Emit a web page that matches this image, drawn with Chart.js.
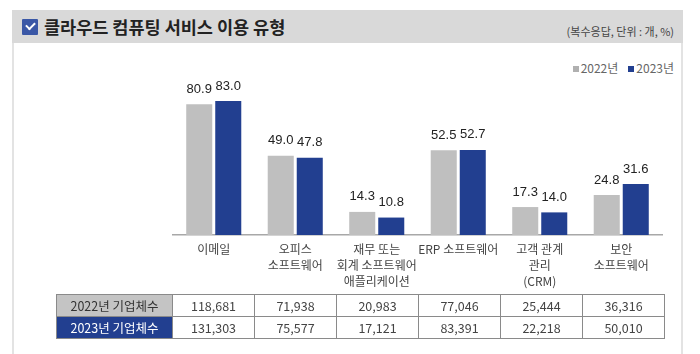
<!DOCTYPE html>
<html>
<head>
<meta charset="utf-8">
<script src="https://cdn.jsdelivr.net/npm/chart.js@4"></script>
<style>
  body { margin:0; background:#fff; font-family:"Noto Sans CJK KR", sans-serif; }
  #wrap { position:relative; width:700px; height:354px; overflow:hidden; }
  #box { position:absolute; left:12px; top:10px; width:671px; height:344px;
         border-left:2px solid #e3e3e3; border-right:2px solid #e3e3e3; box-sizing:border-box; }
  #head { position:absolute; left:12px; top:10px; width:671px; height:33px; background:#d9d9d9; }
  #chk { position:absolute; left:22px; top:19px; width:16px; height:16px; background:#3a57a6; border-radius:1px; }
  #chk:after { content:''; position:absolute; left:4px; top:3px; width:7px; height:4px;
               border-left:2px solid #fff; border-bottom:2px solid #fff; transform:rotate(-45deg); }
  #title { position:absolute; left:44px; top:14px; font-size:17.5px; font-weight:700; color:#222; }
  #unit { position:absolute; right:26px; top:23px; font-size:11px; color:#444; }
  #legend { position:absolute; right:26px; top:59px; font-size:12px; color:#666; display:flex; gap:10px; }
  #legend span i { display:inline-block; width:6px; height:6px; margin-right:2px; vertical-align:1px; }
  #cv { position:absolute; left:14px; top:44px; }
  table { position:absolute; left:56px; top:294px; border-collapse:collapse; font-size:12.5px; color:#444; }
  td { border:1px solid #8a8a8a; height:21px; padding:0; text-align:center; width:81px; }
  td.h { width:115px; }
</style>
</head>
<body>
<div id="wrap">
  <div id="box"></div>
  <div id="head"></div>
  <div id="chk"></div>
  <div id="title">클라우드 컴퓨팅 서비스 이용 유형</div>
  <div id="unit">(복수응답, 단위 : 개, %)</div>
  <div id="legend"></div>
  <canvas id="cv" width="668" height="256"></canvas>
  <table id="tbl"></table>
</div>
<script>
const categories = [
  '이메일',
  ['오피스', '소프트웨어'],
  ['재무 또는', '회계 소프트웨어', '애플리케이션'],
  'ERP 소프트웨어',
  ['고객 관계', '관리', '(CRM)'],
  ['보안', '소프트웨어']
];
const seriesNames = ['2022년', '2023년'];
const share2022 = [80.9, 49.0, 14.3, 52.5, 17.3, 24.8];
const share2023 = [83.0, 47.8, 10.8, 52.7, 14.0, 31.6];
const rowNames = ['2022년 기업체수', '2023년 기업체수'];
const firms2022 = [118681, 71938, 20983, 77046, 25444, 36316];
const firms2023 = [131303, 75577, 17121, 83391, 22218, 50010];

const GRAY = '#bfbfbf', BLUE = '#223f90';

// legend
document.getElementById('legend').innerHTML = seriesNames.map((n, i) =>
  `<span><i style="background:${i ? BLUE : '#b0b0b0'}"></i>${n}</span>`).join('');

// table under the chart
const fmt = v => v.toLocaleString('en-US');
document.getElementById('tbl').innerHTML = [firms2022, firms2023].map((row, i) =>
  `<tr><td class="h" style="background:${i ? BLUE : '#c4c4c4'};color:${i ? '#fff' : '#333'}">${rowNames[i]}</td>` +
  row.map(v => `<td>${fmt(v)}</td>`).join('') + '</tr>').join('');

const valueLabels = {
  id: 'valueLabels',
  afterDatasetsDraw(chart) {
    const ctx = chart.ctx;
    ctx.save();
    ctx.font = '13px "Liberation Sans", Arial, sans-serif';
    ctx.fillStyle = '#222';
    ctx.textAlign = 'center';
    ctx.textBaseline = 'middle';
    chart.data.datasets.forEach((ds, di) => {
      chart.getDatasetMeta(di).data.forEach((bar, i) => {
        ctx.fillText(ds.data[i].toFixed(1), bar.x, bar.y - 15);
      });
    });
    ctx.restore();
  }
};

new Chart(document.getElementById('cv'), {
  type: 'bar',
  data: {
    labels: categories,
    datasets: [
      { label: seriesNames[0], data: share2022, backgroundColor: GRAY },
      { label: seriesNames[1], data: share2023, backgroundColor: BLUE }
    ]
  },
  options: {
    responsive: false, animation: false,
    layout: { padding: { left: 159, right: 20, top: 34, bottom: 6 } },
    datasets: { bar: { categoryPercentage: 0.712, barPercentage: 0.897 } },
    plugins: { legend: { display: false }, tooltip: { enabled: false } },
    scales: {
      x: {
        afterFit: s => { s.height = 59; }, // fixed label band so the baseline lands where the source has it
        grid: { display: false, drawTicks: false },
        border: { display: true, color: '#a8a8a8', width: 1.5 },
        ticks: { color: '#444', padding: 6, autoSkip: false, maxRotation: 0, minRotation: 0,
                 font: { family: '"Noto Sans CJK KR", sans-serif', size: 12, lineHeight: 1.35 } }
      },
      y: { display: false, min: 0, max: 97.2 }
    }
  },
  plugins: [valueLabels]
});
</script>
</body>
</html>
